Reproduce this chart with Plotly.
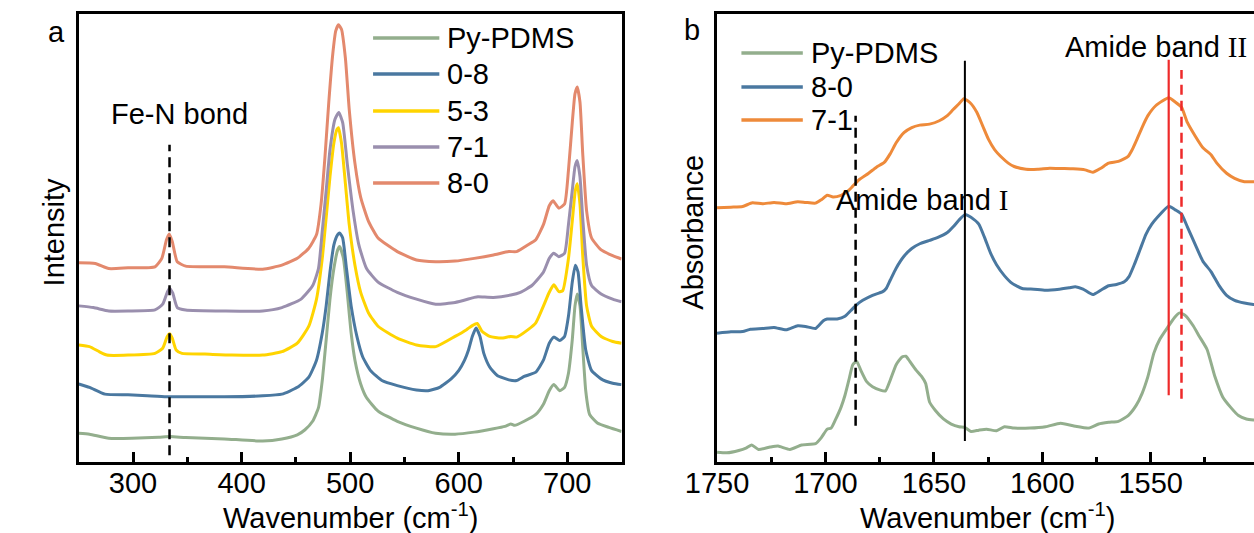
import plotly.graph_objects as go

# ---------------- Panel a (Raman) ----------------
a_py_wn = [250, 259.9, 277.6, 298.9, 323.7, 334.3, 348.5, 384, 419.4, 437.1, 451.3, 458.4, 465.4, 470.8, 474.3, 477.9,
           481.4, 485, 488.5, 490.3, 493.8, 497.3, 500.9, 504.4, 509.7, 515, 525.7, 543.4, 561, 578.8, 596.6, 614.3,
           632, 642.6, 648, 651.5, 660.3, 671, 678, 683.4, 687.6, 693, 697.5, 701, 704.6, 707.1, 709.2, 711.7, 714.2,
           717, 720.6, 727.7, 738.3, 750]
a_py_int = [8.5, 8.2, 7.0, 7.0, 7.3, 7.5, 7.2, 6.8, 6.2, 6.8, 8.0, 9.5, 12, 16, 24, 36, 48, 57, 62.5, 63.5, 60, 50, 38,
            30, 23, 19, 15, 12, 10, 8.5, 8.2, 8.8, 9.8, 10.5, 11.2, 10.8, 12, 14, 17, 21, 22.8, 21, 22, 26, 36, 46,
            49.5, 46, 34, 21, 14, 11.5, 10.2, 9]

a_08_wn = [250, 259.9, 274.1, 295.4, 313.1, 330.8, 348.5, 384, 419.4, 437.1, 451.3, 461.9, 469, 474.3, 477.9, 481.4,
           485, 488.5, 490.3, 493.1, 496.6, 500.9, 506.2, 511.5, 518.6, 529.2, 543.4, 561.1, 571.8, 582.4, 593, 600.1,
           605.4, 609, 612.5, 616, 619.6, 623.1, 628.5, 635.5, 646.2, 653.3, 660.3, 671, 678, 683.4, 687.6, 693,
           697.5, 701.1, 704.6, 707.4, 709.9, 712.7, 717, 722.3, 731.1, 741.8, 750]
a_08_int = [23, 22, 20, 19.8, 19.5, 19.2, 19.2, 19.2, 19.5, 20, 22, 25, 30, 38, 46, 56, 64, 67, 67.5, 66, 57, 46, 37,
            31, 27, 24, 22.5, 21.2, 21, 22, 24.5, 27, 30, 33, 37, 39.5, 37, 32, 28, 25.5, 24.2, 24, 25.2, 26.5, 30,
            35, 36.8, 35.8, 37, 43, 53, 58, 56, 46, 33, 27, 24.5, 23.2, 22.8]

a_53_wn = [250, 259.9, 268.8, 275.9, 295.4, 320.2, 327.3, 331.5, 333.6, 336.1, 339.7, 345, 366.2, 391, 419.4, 437.1,
           451.3, 461.9, 469, 474.3, 477.9, 481.4, 485, 487.8, 489.2, 492, 495.6, 499.1, 504.4, 509.7, 516.8, 525.7,
           543.4, 561.1, 578.8, 596.6, 607.2, 612.5, 617.1, 621.4, 628.5, 639.1, 648, 653.3, 663.9, 671, 678.1,
           683.4, 687.6, 692.2, 695.8, 701.1, 704.6, 707.4, 709.2, 711.7, 714.2, 717.8, 722.4, 731.2, 741.8, 750]
a_53_int = [34.5, 34, 32.5, 31.5, 31.5, 32, 33.5, 37, 37.8, 36.5, 33, 32, 31.8, 31.5, 31.5, 32.5, 35, 40, 48, 60, 72,
            84, 94, 98, 98.5, 94, 82, 70, 58, 50, 44, 40, 36.5, 34.5, 34, 37, 39, 40.2, 40.8, 38.5, 37, 36.5, 37,
            36.8, 39, 41, 46, 50, 52.2, 50.2, 50.5, 60, 71, 80, 82, 76, 61, 46, 40, 37, 35.5, 35]

a_71_wn = [250, 263.5, 277.6, 295.4, 320.2, 327.3, 331.5, 333.6, 336.5, 340.7, 348.5, 384, 419.4, 437.1, 454.8, 465.5,
           470.8, 474.3, 477.9, 481.4, 486, 489.5, 493.1, 497.3, 502.7, 508, 515.1, 525.7, 543.4, 561.1, 578.8,
           596.6, 614.3, 617.8, 632, 648, 656.8, 667.4, 678.1, 683.4, 687.6, 692.2, 697.5, 701.1, 704.6, 707.1,
           709.2, 711.7, 714.2, 717.8, 722.4, 731.2, 741.8, 750]
a_71_int = [46, 45.5, 44.5, 44.5, 44.8, 46.5, 50, 51.2, 49.8, 45.5, 44.8, 44.5, 44.5, 45.5, 48, 52, 57, 68, 80, 92,
            101, 103, 100, 88, 74, 64, 57, 53, 50, 48, 46.5, 47, 48.5, 48.7, 48.5, 49.2, 50, 52, 56, 60, 61.5, 60.5,
            61.5, 70, 80, 87, 88.8, 84, 72, 58, 52, 49.5, 48, 47.2]

a_80_wn = [250, 265.2, 277.6, 295.4, 320.2, 326.5, 330.8, 333.3, 336.1, 340.7, 348.5, 384, 419.4, 437.1, 451.3, 461.9,
           469, 473.2, 476.8, 480.3, 483.9, 486.7, 489.2, 492, 495.6, 499.1, 504.4, 509.7, 516.8, 525.7, 543.4,
           561.1, 578.8, 596.6, 614.3, 632, 646.2, 653.3, 663.9, 671, 678.1, 683.4, 686.9, 692.2, 697.5, 701.1,
           704.6, 707.1, 709.2, 711.7, 714.2, 717.8, 722.4, 731.2, 741.8, 750]
a_80_int = [58.7, 58.5, 57, 57.2, 57.5, 60, 65.5, 67.2, 65, 59, 57.7, 57.5, 56.8, 58, 60, 63, 67, 76, 90, 106, 120,
            127, 128.8, 127.5, 119, 104, 88, 78, 71, 66, 62, 59.5, 59, 59.2, 60, 61, 62, 62, 64, 65.5, 70, 75.5, 77,
            74.8, 76, 86, 100, 108.5, 110.5, 106, 91, 74, 66, 62.5, 60.8, 59.8]

a_names = ["Py-PDMS", "0-8", "5-3", "7-1", "8-0"]
a_colors = ["#93ae8d", "#4a78a0", "#ffd400", "#9a8fae", "#e3896d"]
a_series = [(a_py_wn, a_py_int), (a_08_wn, a_08_int), (a_53_wn, a_53_int), (a_71_wn, a_71_int), (a_80_wn, a_80_int)]

a_feN_x = [333.6, 333.6]
a_feN_y = [2, 93.5]

# ---------------- Panel b (FTIR) ----------------
b_py_wn = [1750, 1745.5, 1740, 1736.4, 1734, 1730.9, 1725.5, 1721.9, 1716.4, 1711, 1704.6, 1701.9, 1699.2, 1697.4,
           1695.6, 1692.8, 1691, 1689.2, 1687.4, 1685.6, 1683.8, 1681, 1678.3, 1674.7, 1672.3, 1670.1, 1667.4,
           1664.7, 1662.9, 1661.1, 1658.3, 1655.6, 1653.8, 1652, 1649.3, 1645.6, 1642, 1638.4, 1635.7, 1632.9,
           1629.3, 1625.7, 1621.1, 1617.5, 1613, 1605.7, 1598.5, 1591.6, 1585.8, 1578.5, 1574, 1569.4, 1564.9,
           1560.4, 1556.7, 1554, 1551.3, 1548.5, 1545.8, 1542.2, 1538.9, 1536.7, 1534, 1530.4, 1527.7, 1524,
           1520.4, 1516.8, 1513.2, 1509.5, 1505.9, 1502.6, 1500]
b_py_int = [2.9, 2.7, 3.4, 4.2, 5.0, 3.7, 4.4, 4.7, 3.7, 5.0, 5.4, 7.2, 9.7, 10, 12.2, 16.2, 19.7, 24.2, 28.7, 29.7,
            27.2, 23.7, 22.2, 21.2, 21, 24.2, 28.7, 31, 31.2, 29.7, 27.2, 25.2, 23.2, 17.7, 15.2, 12.7, 11.2, 10.4,
            10.2, 9, 9.4, 9.7, 9.2, 10.4, 10, 10, 10.4, 11.4, 10.7, 10, 11.2, 11.7, 12, 13.7, 16.7, 20.2, 25.2,
            32.2, 36.2, 39.7, 42.7, 44, 43.2, 40.2, 37.2, 33.2, 25.2, 19.2, 16.2, 13.7, 12.7, 12.4, 12.3]

b_80_wn = [1750, 1743.6, 1738.2, 1734.6, 1729.1, 1723.7, 1718.2, 1712.8, 1709.2, 1704.6, 1701, 1699.2, 1694.6, 1691,
           1688.3, 1685.6, 1682.8, 1678.3, 1673.8, 1672, 1670.1, 1667.4, 1663.8, 1660.2, 1656.5, 1652, 1648.4,
           1643.8, 1641.1, 1638.4, 1635.7, 1632.9, 1629.3, 1626.6, 1623.9, 1621.1, 1617.5, 1613.9, 1609.3, 1603.9,
           1598.5, 1592.1, 1587.6, 1584.8, 1581.2, 1576.7, 1573, 1569.4, 1565.8, 1562.2, 1560, 1557.6, 1554.9,
           1552.2, 1549.5, 1546.7, 1541.7, 1538.6, 1535.8, 1533.1, 1529.5, 1525.9, 1522.2, 1518.6, 1515, 1511.3,
           1506.8, 1502.6, 1500]
b_80_int = [38, 38.4, 38.5, 39.2, 39.4, 39.7, 39, 40.2, 40, 39.4, 41.7, 42.2, 42.2, 43, 44.7, 46.4, 47.7, 49.2, 50.2,
            51.2, 53.7, 57.2, 60.7, 63, 64.4, 65.4, 66.2, 67.7, 69.4, 71.4, 73, 72.2, 70.2, 66.2, 61.7, 58.2, 55,
            52.7, 51.2, 51, 50.7, 51, 51.4, 51.7, 51, 49.4, 50.7, 52, 52.4, 53.2, 54.7, 58.2, 62.7, 67.2, 70.2,
            72.4, 75.5, 74.4, 73.2, 69.4, 64.2, 59.2, 56.2, 52.2, 49.2, 47.7, 46.9, 46.5, 46.4]

b_71_wn = [1750, 1743.6, 1738.2, 1733.7, 1729.1, 1723.7, 1718.2, 1712.8, 1709.2, 1704.6, 1701.9, 1699.2, 1696.5,
           1692.8, 1690.1, 1687.4, 1684.7, 1680.1, 1676.5, 1672.9, 1670.1, 1667.4, 1663.8, 1660.2, 1656.5, 1652,
           1647.5, 1643.8, 1641.1, 1638.4, 1636.2, 1633.3, 1630.2, 1627.5, 1624.8, 1622, 1618.4, 1615.7, 1613,
           1607.5, 1602.1, 1596.6, 1591.2, 1585.8, 1580.3, 1576.7, 1573, 1569.4, 1564.9, 1560.4, 1558.5, 1556.7,
           1554, 1551.3, 1547.6, 1541.7, 1538.6, 1535.8, 1533.1, 1529.5, 1525.9, 1522.2, 1519.5, 1515, 1511.3,
           1506.8, 1502.6, 1500]
b_71_int = [75, 75.2, 75.4, 76.5, 76.2, 76.6, 76.2, 76.8, 76.6, 76.4, 77.4, 78.7, 78.2, 78.7, 79.7, 81.4, 83.2, 85.2,
            87, 88.4, 91, 94.2, 97.2, 98.7, 99.4, 99.7, 100.7, 102.2, 104, 105.7, 107.2, 106, 103.2, 99.2, 95.2,
            92.2, 89.7, 88.2, 87.2, 86.4, 86.4, 86.7, 86.6, 86.5, 86.2, 85.5, 86.7, 88.2, 88.7, 90.2, 92.2, 94.7,
            98.7, 102.2, 105.2, 107.5, 106.2, 104.7, 100.2, 96.2, 92.7, 90.7, 88.2, 85.2, 83.7, 82.7, 82.7, 82.7]

b_names = ["Py-PDMS", "8-0", "7-1"]
b_colors = ["#93ae8d", "#4a78a0", "#ee8a3a"]
b_series = [(b_py_wn, b_py_int), (b_80_wn, b_80_int), (b_71_wn, b_71_int)]

# reference lines in panel b
b_ref_x = [1686.1, 1635.7, 1541.7, 1535.8]
b_ref_y0 = [10.7, 6.2, 19.7, 18.7]
b_ref_y1 = [102.2, 118.4, 118.7, 115.7]
b_ref_color = ["black", "black", "#ee2a2a", "#ee2a2a"]
b_ref_dash = ["10px,6px", "solid", "solid", "10px,6px"]
b_ref_width = [2.5, 2, 2.2, 2.5]

a_ticks = [300, 400, 500, 600, 700]
b_ticks = [1750, 1700, 1650, 1600, 1550]

# ---------------- figure ----------------
W, H = 1254, 533
FONT = "Liberation Sans, Arial, sans-serif"
FS = 29
CURVE = dict(width=3, shape="spline", smoothing=0.5)

fig = go.Figure()
for (wn, it), nm, col in zip(a_series, a_names, a_colors):
    fig.add_trace(go.Scatter(x=wn, y=it, mode="lines", name=nm, line=dict(color=col, **CURVE),
                             xaxis="x", yaxis="y", showlegend=False))
fig.add_trace(go.Scatter(x=a_feN_x, y=a_feN_y, mode="lines", line=dict(color="black", width=2.5, dash="10px,6px"),
                         xaxis="x", yaxis="y", showlegend=False))
for (wn, it), nm, col in zip(b_series, b_names, b_colors):
    fig.add_trace(go.Scatter(x=wn, y=it, mode="lines", name=nm, line=dict(color=col, **CURVE),
                             xaxis="x2", yaxis="y2", showlegend=False))
for xv, y0, y1, c, d, w in zip(b_ref_x, b_ref_y0, b_ref_y1, b_ref_color, b_ref_dash, b_ref_width):
    fig.add_trace(go.Scatter(x=[xv, xv], y=[y0, y1], mode="lines", line=dict(color=c, width=w, dash=d),
                             xaxis="x2", yaxis="y2", showlegend=False))

def px(x):
    return x / W

def py(y):
    return 1 - y / H

ydom = [py(462), py(14)]
axis_common = dict(showline=True, linecolor="black", linewidth=3, showgrid=False, zeroline=False,
                   ticks="inside", ticklen=10, tickwidth=2.5, tickcolor="black", ticklabelstandoff=-7,
                   tickfont=dict(family=FONT, size=FS, color="black"))
fig.update_layout(
    width=W, height=H, margin=dict(l=0, r=0, t=0, b=0),
    paper_bgcolor="white", plot_bgcolor="white",
    font=dict(family=FONT, size=FS, color="black"),
    xaxis=dict(domain=[px(48), px(605)], range=[250, 750], tickvals=a_ticks, mirror=True,
               minor=dict(ticks="inside", ticklen=5, tickwidth=2.5, tickcolor="black", dtick=50, tick0=250),
               anchor="y", **axis_common),
    yaxis=dict(domain=ydom, range=[0, 132], showline=True, linecolor="black", linewidth=3, mirror=True,
               showticklabels=False, ticks="", showgrid=False, zeroline=False, anchor="x"),
    xaxis2=dict(domain=[px(703), 1.0], range=[1750, 1750 - (W - 703) / 445 * 200], tickvals=b_ticks,
                mirror=True,
                minor=dict(ticks="inside", ticklen=5, tickwidth=2.5, tickcolor="black", dtick=25, tick0=1500),
                anchor="y2", **axis_common),
    yaxis2=dict(domain=ydom, range=[0, 132.2], showline=True, linecolor="black", linewidth=3, mirror=False,
                showticklabels=False, ticks="", showgrid=False, zeroline=False, anchor="x2"),
)

ann = []
def text(x, y, s, xref="paper", yref="paper", xanchor="center", angle=0):
    ann.append(dict(x=x, y=y, xref=xref, yref=yref, text=s, showarrow=False, xanchor=xanchor,
                    yanchor="middle", textangle=angle, font=dict(family=FONT, size=FS, color="black")))

SERIF = '<span style="font-family:Liberation Serif">'
text(px(327), py(516), "Wavenumber (cm<sup>-1</sup>)")
text(px(981), py(516), "Wavenumber (cm<sup>-1</sup>)")
text(px(23), py(232), "Intensity", angle=-90)
text(px(678), py(232), "Absorbance", angle=-90)
text(px(25), py(32), "a")
text(px(677), py(30), "b")
text(343.2, 102.5, "Fe-N bond", xref="x", yref="y")
text(1655.3, 77.2, "Amide band " + SERIF + "I</span>", xref="x2", yref="y2")
text(1547.6, 122.4, "Amide band " + SERIF + "II</span>", xref="x2", yref="y2")

# legends drawn as line samples + labels
shapes = []
a_leg_rows = [38, 74, 111, 147, 183]
for nm, col, yy in zip(a_names, a_colors, a_leg_rows):
    shapes.append(dict(type="line", xref="paper", yref="paper", x0=px(350), x1=px(418), y0=py(yy), y1=py(yy),
                       line=dict(color=col, width=3.5)))
    text(px(424), py(yy), nm, xanchor="left")
b_leg_rows = [53, 87, 120]
for nm, col, yy in zip(b_names, b_colors, b_leg_rows):
    shapes.append(dict(type="line", xref="paper", yref="paper", x0=px(728), x1=px(791), y0=py(yy), y1=py(yy),
                       line=dict(color=col, width=3.5)))
    text(px(797), py(yy), nm, xanchor="left")

fig.update_layout(annotations=ann, shapes=shapes)
fig.write_html("out.html", config={"displayModeBar": False},
               post_script="document.body.style.margin='0';document.body.style.overflow='hidden';")
